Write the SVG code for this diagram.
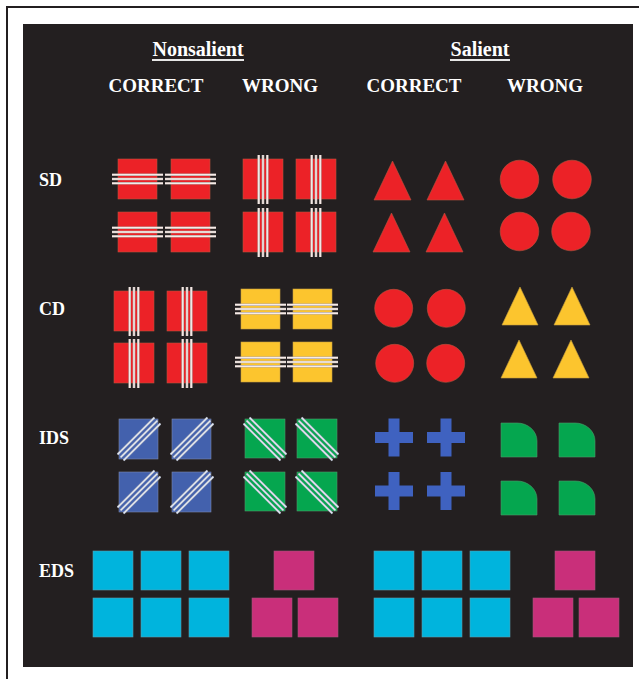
<svg xmlns="http://www.w3.org/2000/svg" xmlns:xlink="http://www.w3.org/1999/xlink" width="639" height="679" viewBox="0 0 639 679">
<style>
.bg{fill:#231f20}
.frame{stroke:#231f20;stroke-width:2;fill:none}
.hdr{font-family:"Liberation Serif","Times New Roman",serif;font-weight:bold;fill:#ffffff}
.h1{font-size:20px}
.h2{font-size:19px}
.lab{font-size:18px}
.ul{stroke:#e6e6e6;stroke-width:2}
.red{fill:#ec2227;stroke:#b8553f;stroke-width:0.6}
.yel{fill:#fcc52e;stroke:#c8a040;stroke-width:0.6}
.blu{fill:#4361ad;stroke:#7a88b0;stroke-width:0.6}
.grn{fill:#05a64f;stroke:#4f9a6a;stroke-width:0.6}
.cross{fill:#3f62c0}
.cya{fill:#00b4dd;stroke:#5a9fb0;stroke-width:0.6}
.mag{fill:#c92f7a;stroke:#a0557a;stroke-width:0.6}
.sb{stroke:#b7aca8;stroke-width:2.6;fill:none}
.sw{stroke:#f6ebe8;stroke-width:1.3;fill:none}
.db{stroke:#a9b0c4;stroke-width:2.2;fill:none}
.dw{stroke:#e8ecf2;stroke-width:1.1;fill:none}
</style>
<defs>
<g id="hs">
<path class="sb" d="M-6,15.7H45M-6,20H45M-6,24.3H45"/>
<path class="sw" d="M-6,15.7H45M-6,20H45M-6,24.3H45"/>
</g>
<g id="vs">
<path class="sb" d="M15.7,-4V45M20,-4V45M24.3,-4V45"/>
<path class="sw" d="M15.7,-4V45M20,-4V45M24.3,-4V45"/>
</g>
<g id="ds">
<path class="db" d="M-1.4,35.4L35.4,-1.4M1.6,38.4L38.4,1.6M4.6,41.4L41.4,4.6"/>
<path class="dw" d="M-1.4,35.4L35.4,-1.4M1.6,38.4L38.4,1.6M4.6,41.4L41.4,4.6"/>
</g>
<g id="bs">
<path class="db" d="M4.6,-1.4L41.4,35.4M1.6,1.6L38.4,38.4M-1.4,4.6L35.4,41.4"/>
<path class="dw" d="M4.6,-1.4L41.4,35.4M1.6,1.6L38.4,38.4M-1.4,4.6L35.4,41.4"/>
</g>
<g id="redH"><rect class="red" width="39" height="40"/><use xlink:href="#hs"/></g>
<g id="redV"><rect class="red" width="40" height="40"/><use xlink:href="#vs"/></g>
<g id="yelH"><rect class="yel" width="39" height="40"/><use xlink:href="#hs"/></g>
<g id="bluD"><rect class="blu" width="39" height="40"/><use xlink:href="#ds"/></g>
<g id="grnD"><rect class="grn" width="40" height="39"/><use xlink:href="#bs"/></g>
<path id="triR" class="red" d="M18.5,0L37,39H0Z"/>
<path id="triY" class="yel" d="M18,0L36,38H0Z"/>
<path id="crs" class="cross" d="M13.5,0H24.5V13.5H38V24.5H24.5V38H13.5V24.5H0V13.5H13.5Z"/>
<path id="qr" class="grn" d="M0,0H16A20,18 0 0 1 36,18V34H0Z"/>
<rect id="cy" class="cya" width="40" height="39"/>
<rect id="mg" class="mag" width="40" height="39"/>
</defs>

<rect class="bg" x="23" y="24" width="610" height="643"/>
<path class="frame" d="M7,679V7H639"/>

<g id="headers">
<text class="hdr h1" x="198" y="56" text-anchor="middle">Nonsalient</text>
<line class="ul" x1="152" y1="60" x2="244" y2="60"/>
<text class="hdr h1" x="480" y="56" text-anchor="middle">Salient</text>
<line class="ul" x1="450" y1="60" x2="510" y2="60"/>
<text class="hdr h2" x="156" y="92" text-anchor="middle">CORRECT</text>
<text class="hdr h2" x="280" y="92" text-anchor="middle">WRONG</text>
<text class="hdr h2" x="414" y="92" text-anchor="middle">CORRECT</text>
<text class="hdr h2" x="545" y="92" text-anchor="middle">WRONG</text>
</g>

<g id="row-labels">
<text class="hdr lab" x="39" y="186">SD</text>
<text class="hdr lab" x="39" y="315">CD</text>
<text class="hdr lab" x="39" y="444">IDS</text>
<text class="hdr lab" x="39" y="577">EDS</text>
</g>

<g id="sd-nonsalient-correct">
<use xlink:href="#redH" x="118" y="159"/>
<use xlink:href="#redH" x="171" y="159"/>
<use xlink:href="#redH" x="118" y="212"/>
<use xlink:href="#redH" x="171" y="212"/>
</g>
<g id="sd-nonsalient-wrong">
<use xlink:href="#redV" x="243" y="159"/>
<use xlink:href="#redV" x="296" y="159"/>
<use xlink:href="#redV" x="243" y="212"/>
<use xlink:href="#redV" x="296" y="212"/>
</g>
<g id="sd-salient-correct">
<use xlink:href="#triR" x="374" y="161"/>
<use xlink:href="#triR" x="427" y="161"/>
<use xlink:href="#triR" x="373" y="213"/>
<use xlink:href="#triR" x="426" y="213"/>
</g>
<g id="sd-salient-wrong">
<circle class="red" cx="519.5" cy="179.5" r="19.3"/>
<circle class="red" cx="572" cy="179.5" r="19.3"/>
<circle class="red" cx="519.5" cy="231.5" r="19.3"/>
<circle class="red" cx="571" cy="231.5" r="19.3"/>
</g>

<g id="cd-nonsalient-correct">
<use xlink:href="#redV" x="114" y="291"/>
<use xlink:href="#redV" x="167" y="291"/>
<use xlink:href="#redV" x="114" y="343"/>
<use xlink:href="#redV" x="167" y="343"/>
</g>
<g id="cd-nonsalient-wrong">
<use xlink:href="#yelH" x="241" y="289"/>
<use xlink:href="#yelH" x="293" y="289"/>
<use xlink:href="#yelH" x="241" y="342"/>
<use xlink:href="#yelH" x="293" y="342"/>
</g>
<g id="cd-salient-correct">
<circle class="red" cx="393.7" cy="308.3" r="19"/>
<circle class="red" cx="446.3" cy="308.3" r="19"/>
<circle class="red" cx="394.7" cy="363.3" r="19"/>
<circle class="red" cx="445.7" cy="363.3" r="19"/>
</g>
<g id="cd-salient-wrong">
<use xlink:href="#triY" x="502" y="287"/>
<use xlink:href="#triY" x="554" y="287"/>
<use xlink:href="#triY" x="501" y="340"/>
<use xlink:href="#triY" x="553" y="340"/>
</g>

<g id="ids-nonsalient-correct">
<use xlink:href="#bluD" x="119" y="419"/>
<use xlink:href="#bluD" x="172" y="419"/>
<use xlink:href="#bluD" x="119" y="472"/>
<use xlink:href="#bluD" x="172" y="472"/>
</g>
<g id="ids-nonsalient-wrong">
<use xlink:href="#grnD" x="245" y="419"/>
<use xlink:href="#grnD" x="297" y="419"/>
<use xlink:href="#grnD" x="245" y="472"/>
<use xlink:href="#grnD" x="297" y="472"/>
</g>
<g id="ids-salient-correct">
<use xlink:href="#crs" x="375" y="418.5"/>
<use xlink:href="#crs" x="427" y="418.5"/>
<use xlink:href="#crs" x="375" y="472"/>
<use xlink:href="#crs" x="427" y="472"/>
</g>
<g id="ids-salient-wrong">
<use xlink:href="#qr" x="501" y="423"/>
<use xlink:href="#qr" x="559" y="423"/>
<use xlink:href="#qr" x="501" y="481"/>
<use xlink:href="#qr" x="559" y="481"/>
</g>

<g id="eds-nonsalient-correct">
<use xlink:href="#cy" x="93" y="551"/>
<use xlink:href="#cy" x="141" y="551"/>
<use xlink:href="#cy" x="189" y="551"/>
<use xlink:href="#cy" x="93" y="598"/>
<use xlink:href="#cy" x="141" y="598"/>
<use xlink:href="#cy" x="189" y="598"/>
</g>
<g id="eds-nonsalient-wrong">
<use xlink:href="#mg" x="274" y="551"/>
<use xlink:href="#mg" x="252" y="598"/>
<use xlink:href="#mg" x="298" y="598"/>
</g>
<g id="eds-salient-correct">
<use xlink:href="#cy" x="374" y="551"/>
<use xlink:href="#cy" x="422" y="551"/>
<use xlink:href="#cy" x="470" y="551"/>
<use xlink:href="#cy" x="374" y="598"/>
<use xlink:href="#cy" x="422" y="598"/>
<use xlink:href="#cy" x="470" y="598"/>
</g>
<g id="eds-salient-wrong">
<use xlink:href="#mg" x="555" y="551"/>
<use xlink:href="#mg" x="533" y="598"/>
<use xlink:href="#mg" x="579" y="598"/>
</g>

<g id="connectors"/>
</svg>
